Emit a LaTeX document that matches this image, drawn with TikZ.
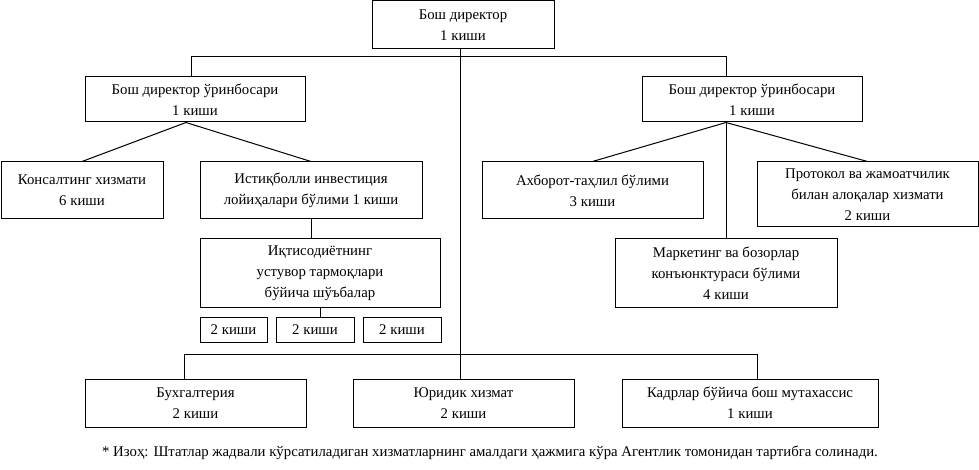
\documentclass[tikz,border=0pt]{standalone}
\usepackage{fontspec}
\setmainfont{Liberation Serif}

\begin{document}
\begin{tikzpicture}[x=1pt,y=-1pt,line width=1pt,
  box/.style={draw,align=center,inner sep=0pt,font=\fontsize{14.8}{21}\selectfont},
  note/.style={font=\fontsize{14.8}{21}\selectfont}]

\useasboundingbox (0,0) rectangle (979,470);

\node[box,minimum width=182pt,minimum height=48pt] (gd) at (463,25) {Бош директор\\1 киши};

\node[box,minimum width=220pt,minimum height=45pt] (d1) at (195,99.5) {Бош директор ўринбосари\\1 киши};
\node[box,minimum width=220pt,minimum height=45pt] (d2) at (752,99.5) {Бош директор ўринбосари\\1 киши};

\node[box,minimum width=162pt,minimum height=57pt] (kon) at (82,190.5) {Консалтинг хизмати\\6 киши};
\node[box,minimum width=222pt,minimum height=57pt] (ist) at (311,190.5) {Истиқболли инвестиция\\лойиҳалари бўлими 1 киши};
\node[box,minimum width=240pt,minimum height=68pt] (iqt) at (320,273) {Иқтисодиётнинг\\устувор тармоқлари\\бўйича шўъбалар};

\node[box,minimum width=67pt,minimum height=25pt] (s1) at (233.5,329.5) {2 киши};
\node[box,minimum width=78pt,minimum height=25pt] (s2) at (315,329.5) {2 киши};
\node[box,minimum width=78pt,minimum height=25pt] (s3) at (402,329.5) {2 киши};

\node[box,minimum width=221pt,minimum height=57pt] (axb) at (592.5,190.5) {Ахборот-таҳлил бўлими\\3 киши};
\node[box,minimum width=221pt,minimum height=65pt] (pro) at (867.5,194.5) {Протокол ва жамоатчилик\\билан алоқалар хизмати\\2 киши};
\node[box,minimum width=222pt,minimum height=68pt] (mar) at (726,273) {Маркетинг ва бозорлар\\конъюнктураси бўлими\\4 киши};

\node[box,minimum width=221pt,minimum height=48pt] (buh) at (195.5,403) {Бухгалтерия\\2 киши};
\node[box,minimum width=221pt,minimum height=48pt] (yur) at (463.5,403) {Юридик хизмат\\2 киши};
\node[box,minimum width=256pt,minimum height=48pt] (kad) at (750,403) {Кадрлар бўйича бош мутахассис\\1 киши};

\node[note] (izoh) at (490,453) {* Изоҳ: Штатлар жадвали кўрсатиладиган хизматларнинг амалдаги ҳажмига кўра Агентлик томонидан тартибга солинади.};

\coordinate (topbar) at (0,57);
\coordinate (botbar) at (0,354);

\draw ([xshift=-3pt]gd.south) -- ([xshift=-3pt]gd.south |- yur.north);
\draw ([xshift=-4pt]d1.north) -- ([xshift=-4pt]d1.north |- topbar) -- (mar.north |- topbar) -- (mar.north |- d2.north);

\draw (kon.north) -- ([xshift=-9pt]d1.south) -- (ist.north);
\draw (ist.south) -- (iqt.north -| ist.south);
\draw (iqt.south) -- (s2.north -| iqt.south);

\draw (axb.north) -- (mar.north |- d2.south) -- (pro.north);
\draw (mar.north |- d2.south) -- (mar.north);

\draw ([xshift=-11pt]buh.north) -- ([xshift=-11pt]buh.north |- botbar) -- ([xshift=7pt]kad.north |- botbar) -- ([xshift=7pt]kad.north);
\end{tikzpicture}
\end{document}
